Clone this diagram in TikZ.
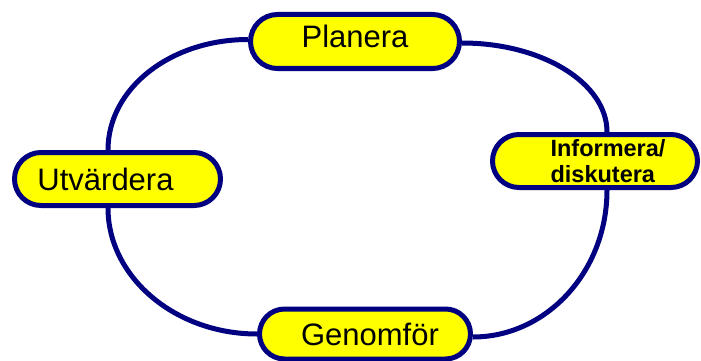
\documentclass[tikz,border=0pt]{standalone}
\usepackage{fontspec}
\setmainfont{Liberation Sans}
\usetikzlibrary{shapes.misc}
\definecolor{navy}{RGB}{0,0,128}
\definecolor{pillfill}{RGB}{255,255,0}
\tikzset{
  pill/.style={rounded rectangle, draw=navy, line width=5pt, fill=pillfill,
    inner sep=0pt, font=\fontsize{31pt}{36pt}\selectfont},
  cycleline/.style={draw=navy, line width=5pt}
}
\begin{document}
\begin{tikzpicture}[x=1pt,y=-1pt]
\useasboundingbox (0,0) rectangle (701,361);
\node[pill, minimum width=209pt, minimum height=54pt] (P) at (355,41.5) {\raisebox{5pt}[\height][\depth]{Planera}};
\node[pill, minimum width=205pt, minimum height=53pt, align=left,
  font=\fontsize{23.5pt}{26pt}\selectfont\bfseries] (I) at (595,161)
  {\hspace*{26pt}Informera/\\\hspace*{26pt}diskutera};
\node[pill, minimum width=206pt, minimum height=53pt] (U) at (117.5,179) {\hspace*{-24pt}Utvärdera};
\node[pill, minimum width=211pt, minimum height=50pt] (G) at (365,334) {\hspace*{10pt}Genomför};
\draw[cycleline] ([yshift=2pt]P.west) .. controls +(-77,0) and +(0,-62) .. ([xshift=-9.5pt]U.north);
\draw[cycleline] ([xshift=-9.5pt]U.south) .. controls +(0,69) and +(-82,0) .. (G.west);
\draw[cycleline] ([yshift=-1.5pt]P.east) .. controls +(80,0) and +(0,-49) .. ([xshift=12pt]I.north);
\draw[cycleline] ([xshift=12pt]I.south) .. controls +(0,82) and +(73,0) .. ([yshift=-3pt]G.east);
\end{tikzpicture}
\end{document}
